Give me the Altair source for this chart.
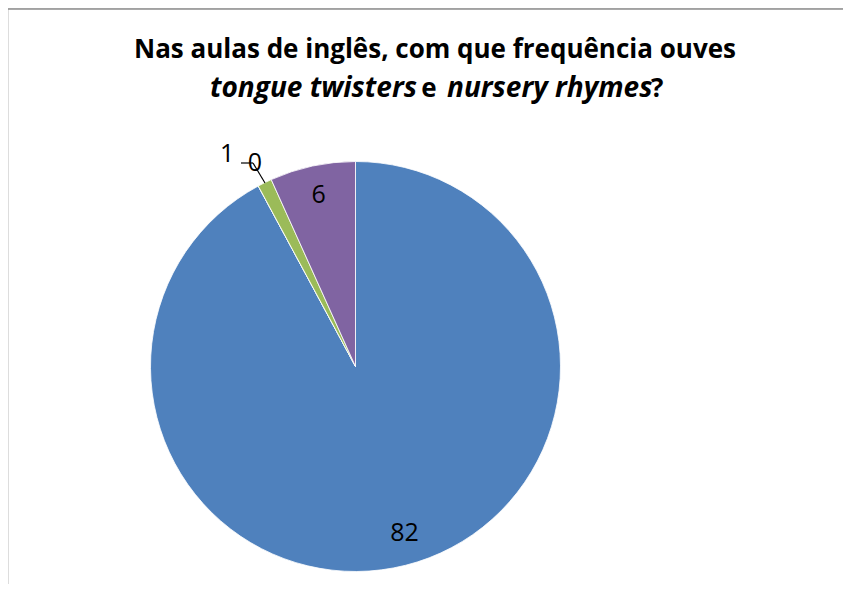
import altair as alt
import pandas as pd

# Data
categories = ["Sempre", "Muitas vezes", "Às vezes", "Nunca"]
values = [82, 0, 1, 6]
order_idx = [0, 1, 2, 3]
colors = ["#4F81BD", "#C0504D", "#9BBB59", "#8064A2"]

df = pd.DataFrame({"cat": categories, "value": values, "idx": order_idx})

W, H = 835, 576
CX, CY = 347.5, 358.5
R = 205
FONT = "Open Sans"
LFS = 25

base = alt.Chart(df).encode(
    theta=alt.Theta("value:Q", stack=True),
    order=alt.Order("idx:Q"),
    x=alt.value(CX),
    y=alt.value(CY),
)

pie = base.mark_arc(outerRadius=R, stroke="#ffffff", strokeWidth=0.8).encode(
    color=alt.Color("cat:N", scale=alt.Scale(domain=categories, range=colors), legend=None)
)


def label_layer(cat, radius, dx=0, dy=0):
    return base.transform_calculate(
        lbl=f"datum.cat === '{cat}' ? datum.value + '' : ''"
    ).mark_text(
        radius=radius, dx=dx, dy=dy, font=FONT, fontSize=LFS, color="#000000",
        align="center", baseline="middle"
    ).encode(text="lbl:N")


lab_82 = label_layer(categories[0], 172, dx=7)
lab_0 = label_layer(categories[1], 228, dx=7.5, dy=-2.5)
lab_1 = label_layer(categories[2], 247, dx=-19, dy=9)
lab_6 = label_layer(categories[3], 175)

# leader line for the "1" label
leader1 = alt.Chart(df).mark_rule(color="#000000", strokeWidth=1.2).encode(
    x=alt.value(233), x2=alt.value(245), y=alt.value(155), y2=alt.value(155)
).transform_filter("datum.idx === 0")
leader2 = alt.Chart(df).mark_rule(color="#000000", strokeWidth=1.2).encode(
    x=alt.value(245), x2=alt.value(257), y=alt.value(155), y2=alt.value(175)
).transform_filter("datum.idx === 0")

# chart border (top and left)
border_top = alt.Chart(df).mark_rule(color="#8c8c8c", strokeWidth=1.5).encode(
    x=alt.value(-1), x2=alt.value(W), y=alt.value(1)
).transform_filter("datum.idx === 0")
border_left = alt.Chart(df).mark_rule(color="#8c8c8c", strokeWidth=1.5).encode(
    x=alt.value(-1), y=alt.value(1), y2=alt.value(H)
).transform_filter("datum.idx === 0")

# title
title_line1 = ["Nas aulas de inglês, com que frequência ouves"]
title_parts = ["tongue twisters", "e", "nursery rhymes", "?"]


def tmark(text, x, y, align, italic, size):
    return alt.Chart(df).transform_filter("datum.idx === 0").mark_text(
        text=text, font=FONT, fontSize=size, fontWeight="bold",
        fontStyle="italic" if italic else "normal", align=align,
        baseline="alphabetic", color="#000000"
    ).encode(x=alt.value(x), y=alt.value(y))


t1 = tmark(title_line1[0], 427, 50, "center", False, 26)
t2a = tmark(title_parts[0], 202, 89, "left", True, 28)
t2b = tmark(title_parts[1], 421, 89, "center", False, 26)
t2c = tmark(title_parts[2], 439, 89, "left", True, 28)
t2d = tmark(title_parts[3], 643, 89, "left", False, 26)

chart = alt.layer(
    border_top, border_left, pie, lab_82, lab_0, lab_1, lab_6, leader1, leader2,
    t1, t2a, t2b, t2c, t2d
).properties(
    width=W, height=H, padding=0, autosize=alt.AutoSizeParams(type="none")
).configure_view(stroke=None).configure(background="#ffffff")

chart.save("out.html", embed_options={"renderer": "svg", "actions": False})
